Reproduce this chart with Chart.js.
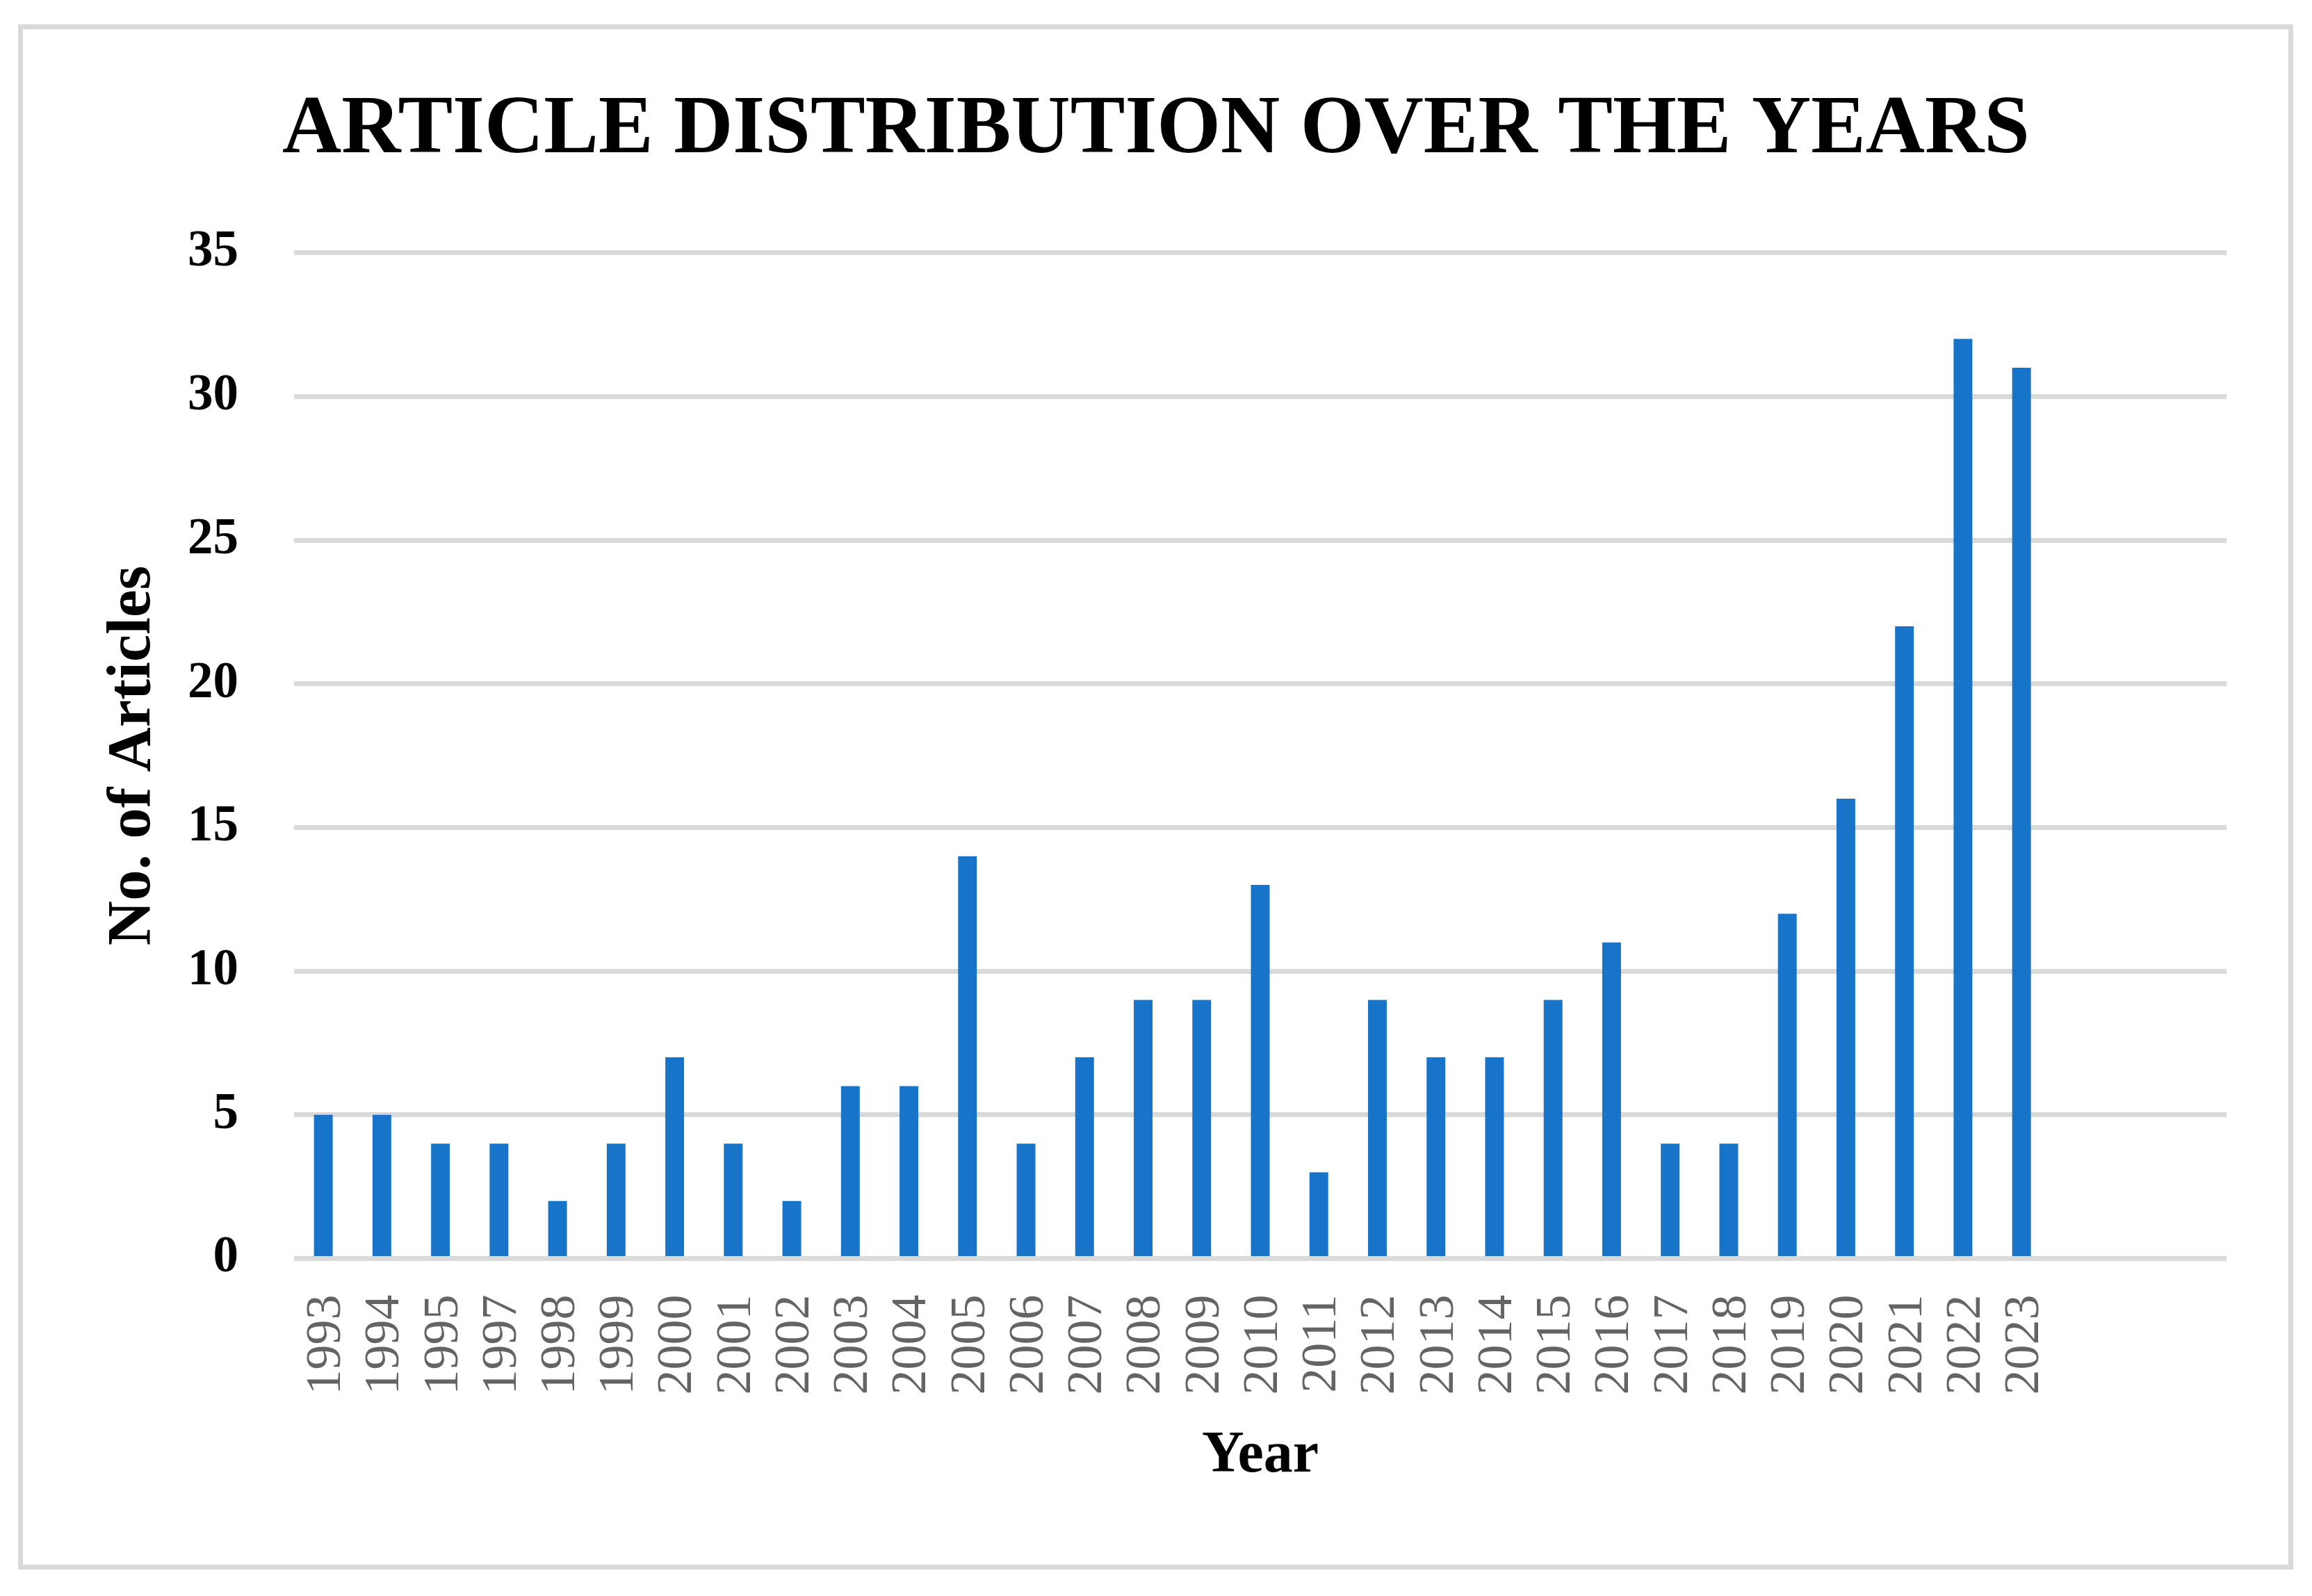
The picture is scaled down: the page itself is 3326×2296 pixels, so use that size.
<!DOCTYPE html>
<html>
<head>
<meta charset="utf-8">
<script src="https://cdn.jsdelivr.net/npm/chart.js@4.4.1/dist/chart.umd.min.js"></script>
<style>
  html, body { margin: 0; padding: 0; background: #ffffff; }
  canvas { display: block; }
</style>
</head>
<body>
<canvas id="c" width="3326" height="2296"></canvas>
<script>
const years = ['1993','1994','1995','1997','1998','1999','2000','2001','2002','2003','2004','2005','2006','2007','2008','2009','2010','2011','2012','2013','2014','2015','2016','2017','2018','2019','2020','2021','2022','2023'];
const articleCounts = [5,5,4,4,2,4,7,4,2,6,6,14,4,7,9,9,13,3,9,7,7,9,11,4,4,12,16,22,32,31];
const blankSlots = ['', '', ''];
const yTicks = [0, 5, 10, 15, 20, 25, 30, 35];
const chartTitle = 'ARTICLE DISTRIBUTION OVER THE YEARS';
const xTitle = 'Year';
const yTitle = 'No. of Articles';

const SERIF = "'Liberation Serif', 'Times New Roman', serif";

const framePlugin = {
  id: 'frame',
  beforeDraw(chart) {
    const ctx = chart.ctx;
    ctx.save();
    ctx.fillStyle = '#ffffff';
    ctx.fillRect(0, 0, chart.width, chart.height);
    ctx.strokeStyle = '#d9d9d9';
    ctx.lineWidth = 7;
    ctx.strokeRect(29.5, 38.5, 3266, 2216);
    ctx.restore();
  }
};

new Chart(document.getElementById('c'), {
  type: 'bar',
  data: {
    labels: years.concat(blankSlots),
    datasets: [{
      label: 'Articles',
      data: articleCounts,
      backgroundColor: '#1874c8',
      borderWidth: 0,
      categoryPercentage: 1.0,
      barPercentage: 0.32
    }]
  },
  options: {
    responsive: false,
    animation: false,
    devicePixelRatio: 1,
    layout: { padding: 0 },
    plugins: {
      legend: { display: false },
      tooltip: { enabled: false },
      title: {
        display: true,
        text: chartTitle,
        color: '#000000',
        font: { family: SERIF, size: 118, weight: 'bold', lineHeight: 1.2 },
        padding: { top: 118, bottom: 104 }
      }
    },
    scales: {
      x: {
        grid: { display: false, drawTicks: false },
        border: { display: false },
        ticks: {
          color: '#646464',
          font: { family: SERIF, size: 72, weight: 'normal' },
          minRotation: 90,
          maxRotation: 90,
          autoSkip: false,
          labelOffset: 5,
          padding: 52
        },
        title: {
          display: true,
          text: xTitle,
          color: '#000000',
          font: { family: SERIF, size: 84, weight: 'bold', lineHeight: 1.2 },
          padding: { top: 0, bottom: 150 }
        },
        afterFit(scale) { scale.height = 485.5; }
      },
      y: {
        min: 0,
        max: 35,
        grid: { color: '#d9d9d9', lineWidth: 7, drawTicks: false },
        border: { display: false },
        afterBuildTicks(scale) { scale.ticks = yTicks.map(v => ({ value: v })); },
        ticks: {
          color: '#000000',
          font: { family: SERIF, size: 73, weight: 'bold' },
          padding: 80
        },
        title: {
          display: true,
          text: yTitle,
          color: '#000000',
          font: { family: SERIF, size: 89, weight: 'bold', lineHeight: 1.2 },
          padding: { top: 139, bottom: 0 }
        },
        afterFit(scale) { scale.width = 423; }
      },
      rightSpace: {
        type: 'linear',
        position: 'right',
        display: true,
        grid: { display: false, drawTicks: false },
        border: { display: false },
        ticks: { display: false },
        afterFit(scale) { scale.width = 123; }
      }
    }
  },
  plugins: [framePlugin]
});
</script>
</body>
</html>
